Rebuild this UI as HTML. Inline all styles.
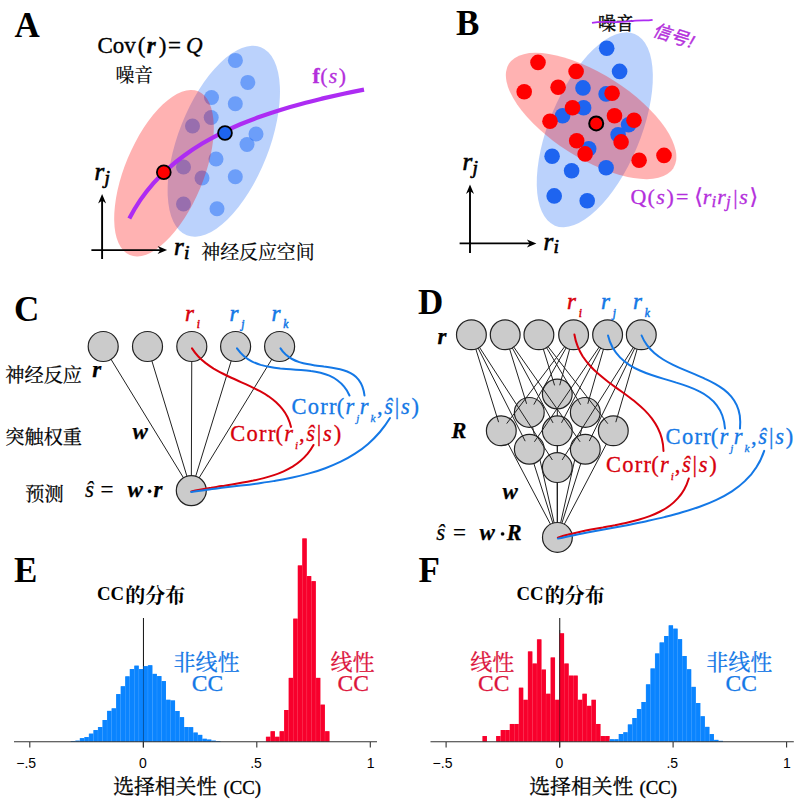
<!DOCTYPE html>
<html><head><meta charset="utf-8"><title>Figure</title><style>html,body{margin:0;padding:0;background:#fff;font-family:"Liberation Sans",sans-serif}svg{display:block}.sf{font-family:"Liberation Serif","Noto Serif CJK SC","DejaVu Serif",serif}.ss{font-family:"Liberation Sans","Noto Sans CJK SC",sans-serif}.it{font-style:italic}.bi{font-style:italic;font-weight:bold}.b{font-weight:bold}</style></head><body><svg width="800" height="802" viewBox="0 0 800 802"><g fill="#000" class="sf b" font-size="35"><text x="14.5" y="37">A</text><text x="456" y="35">B</text><text x="14" y="321">C</text><text x="418" y="313.6">D</text><text x="14" y="581.5">E</text><text x="418.5" y="582">F</text></g><ellipse cx="223.8" cy="141.2" rx="101.1" ry="45.4" transform="rotate(-68.5 223.8 141.2)" fill="rgb(30,105,245)" fill-opacity="0.30"/><g fill="rgb(30,105,245)" fill-opacity="0.5"><circle cx="235.4" cy="60.4" r="7.5"/><circle cx="247.8" cy="82.4" r="7.5"/><circle cx="211.5" cy="97.5" r="7.5"/><circle cx="235.3" cy="103.7" r="7.5"/><circle cx="211.2" cy="117.5" r="7.5"/><circle cx="192.5" cy="126.0" r="7.5"/><circle cx="256.0" cy="134.0" r="7.5"/><circle cx="247.0" cy="144.5" r="7.5"/><circle cx="183.5" cy="167.0" r="7.5"/><circle cx="216.0" cy="159.0" r="7.5"/><circle cx="202.0" cy="178.0" r="7.5"/><circle cx="235.3" cy="176.8" r="7.5"/><circle cx="183.5" cy="204.0" r="7.5"/><circle cx="217.0" cy="208.8" r="7.5"/></g><ellipse cx="164.0" cy="173.2" rx="88.8" ry="39.2" transform="rotate(-67.3 164.0 173.2)" fill="rgb(255,0,0)" fill-opacity="0.30"/><path d="M129.3 218.5 C132.7 212.0 136.4 205.8 140.4 199.9 C144.5 194.0 148.9 188.5 153.5 183.2 C158.2 178.0 163.1 173.0 168.3 168.4 C173.5 163.7 178.9 159.3 184.6 155.2 C190.3 151.0 196.1 147.2 202.2 143.5 C208.3 139.9 214.5 136.5 220.9 133.3 C227.3 130.1 233.8 127.1 240.4 124.3 C247.0 121.5 253.8 118.9 260.6 116.5 C267.4 114.1 274.3 111.8 281.2 109.7 C288.2 107.5 295.1 105.5 302.1 103.7 C309.1 101.8 316.1 100.1 323.0 98.4 C330.0 96.8 336.9 95.3 343.7 93.8 C350.5 92.3 357.3 90.9 364.0 89.6" fill="none" stroke="#ad2cf3" stroke-width="4.2"/><circle cx="163.8" cy="172.3" r="6.9" fill="#f00" stroke="#000" stroke-width="1.8"/><circle cx="225" cy="133" r="6.9" fill="#1e64f0" stroke="#000" stroke-width="1.8"/><g stroke="#000" stroke-width="1.9" fill="none"><path d="M102.1 259.0 V197.9 M91.4 250.1 H163.1"/></g><path d="M102.1 193.9 l-4 9.5 l4 -2.8 l4 2.8 z" fill="#000"/><path d="M167.1 250.1 l-9.5 -4 l2.8 4 l-2.8 4 z" fill="#000"/><g fill="#000" stroke="#000" stroke-width="0.35"><text class="sf" font-size="23" y="52.5"><tspan x="97.5">Cov</tspan><tspan x="137.75">(</tspan><tspan x="146.7" class="bi">r</tspan><tspan x="158.86">)</tspan><tspan x="168.01">=</tspan><tspan x="186.1" class="it">Q</tspan></text></g><g fill="#000" stroke="#000" stroke-width="0.65"><text class="sf it" font-size="25" x="94.5" y="180">r<tspan x="104.58" y="183.5" font-size="19.5">j</tspan></text><text class="sf it" font-size="25" x="174" y="255">r<tspan x="184.08" y="258.5" font-size="19.5">i</tspan></text></g><g fill="#000" stroke="#000" stroke-width="0.2"><text class="sf" font-size="18.8" x="115.5" y="81.8">噪音</text><text class="sf" font-size="18.9" x="201.3" y="258.8">神经反应空间</text></g><g fill="#b42fdc" stroke="#b42fdc" stroke-width="0.3"><text class="sf" font-size="21.8" y="82.5"><tspan x="312.5" class="b">f</tspan><tspan x="320.15">(</tspan><tspan x="328.63" class="it">s</tspan><tspan x="338.86">)</tspan></text></g><ellipse cx="594.8" cy="129.8" rx="103.8" ry="45.7" transform="rotate(-67.4 594.8 129.8)" fill="rgb(30,105,245)" fill-opacity="0.30"/><ellipse cx="591.1" cy="116.0" rx="97.4" ry="42.1" transform="rotate(32.4 591.1 116.0)" fill="rgb(255,0,0)" fill-opacity="0.30"/><g fill="#1e64f0"><circle cx="606.7" cy="48.3" r="7.8"/><circle cx="619.6" cy="71.4" r="7.8"/><circle cx="583.0" cy="87.9" r="7.8"/><circle cx="606.1" cy="93.9" r="7.8"/><circle cx="583.6" cy="107.7" r="7.8"/><circle cx="562.6" cy="115.8" r="7.8"/><circle cx="628.6" cy="124.8" r="7.8"/><circle cx="618.1" cy="134.7" r="7.8"/><circle cx="588.7" cy="148.8" r="7.8"/><circle cx="552.1" cy="156.3" r="7.8"/><circle cx="571.6" cy="170.7" r="7.8"/><circle cx="606.1" cy="167.7" r="7.8"/><circle cx="554.2" cy="195.9" r="7.8"/><circle cx="587.2" cy="200.7" r="7.8"/></g><g fill="#f00"><circle cx="538.0" cy="62.4" r="7.8"/><circle cx="576.1" cy="71.4" r="7.8"/><circle cx="558.1" cy="87.3" r="7.8"/><circle cx="524.2" cy="91.8" r="7.8"/><circle cx="612.1" cy="93.3" r="7.8"/><circle cx="572.5" cy="107.7" r="7.8"/><circle cx="614.5" cy="115.8" r="7.8"/><circle cx="550.0" cy="121.2" r="7.8"/><circle cx="634.0" cy="120.3" r="7.8"/><circle cx="576.7" cy="140.7" r="7.8"/><circle cx="621.1" cy="141.9" r="7.8"/><circle cx="585.1" cy="153.9" r="7.8"/><circle cx="639.1" cy="160.2" r="7.8"/><circle cx="664.0" cy="155.4" r="7.8"/></g><circle cx="596.2" cy="123.4" r="7" fill="#f00" stroke="#000" stroke-width="2"/><g stroke="#000" stroke-width="1.9" fill="none"><path d="M470.0 253.0 V188.4 M459.6 243.4 H532.4"/></g><path d="M470.0 184.4 l-4 9.5 l4 -2.8 l4 2.8 z" fill="#000"/><path d="M536.4 243.4 l-9.5 -4 l2.8 4 l-2.8 4 z" fill="#000"/><g fill="#000" stroke="#000" stroke-width="0.65"><text class="sf it" font-size="25" x="462.5" y="170">r<tspan x="472.57" y="173.5" font-size="19.5">j</tspan></text><text class="sf it" font-size="25" x="543.5" y="249.5">r<tspan x="553.57" y="253" font-size="19.5">i</tspan></text></g><g fill="#000" stroke="#000" stroke-width="0.35"><text class="sf" font-size="18" x="598" y="30.3">噪音</text></g><path d="M592 22.8 C604 20.5 614 23.3 628 21.4 S645 21 652.6 19.8" fill="none" stroke="#ad2cf3" stroke-width="1.8"/><g fill="#b42fdc" stroke="#b42fdc" stroke-width="0.4" transform="translate(651.8 35.6) rotate(17.5) skewX(-12)"><text class="ss" font-size="18" x="0" y="0">信号!</text></g><g fill="#b42fdc" stroke="#b42fdc" stroke-width="0.3"><text class="sf" font-size="22" y="203.8"><tspan x="630.5">Q</tspan><tspan x="647.62">(</tspan><tspan x="656.17" class="it">s</tspan><tspan x="666.49">)</tspan><tspan x="676.05">=</tspan><tspan x="694.17">⟨</tspan><tspan x="702.72" class="it">r</tspan><tspan x="711.45" y="206.88" font-size="17.16" class="it">i</tspan><tspan x="717.37" y="203.8" class="it">r</tspan><tspan x="726.09" y="206.88" font-size="17.16" class="it">j</tspan><tspan x="733.16" y="203.8">|</tspan><tspan x="739.27" class="it">s</tspan><tspan x="749.59">⟩</tspan></text></g><g stroke="#222" stroke-width="1" fill="none"><path d="M103.2 346.5 L191.3 490.6"/><path d="M147.5 346.5 L191.3 490.6"/><path d="M191.8 346.5 L191.3 490.6"/><path d="M235.6 346.5 L191.3 490.6"/><path d="M279.6 346.5 L191.3 490.6"/></g><g fill="#cbcbcb" stroke="#222" stroke-width="1.2"><circle cx="103.2" cy="346.5" r="15.0"/><circle cx="147.5" cy="346.5" r="15.0"/><circle cx="191.8" cy="346.5" r="15.0"/><circle cx="235.6" cy="346.5" r="15.0"/><circle cx="279.6" cy="346.5" r="15.0"/><circle cx="191.3" cy="490.6" r="15.0"/></g><g fill="none" stroke-width="2" stroke-linecap="round"><path stroke="#d8000c" d="M192.0 348.4 C193.8 351.2 195.8 353.8 198.1 356.2 C200.3 358.6 202.8 360.8 205.4 362.9 C208.0 364.9 210.8 366.8 213.6 368.6 C216.5 370.3 219.5 372.0 222.6 373.5 C225.6 375.1 228.8 376.6 231.9 378.0 C235.1 379.5 238.3 380.9 241.5 382.3 C244.6 383.7 247.8 385.2 250.9 386.6 C254.0 388.1 257.0 389.6 260.0 391.2 C262.9 392.8 265.8 394.5 268.5 396.3 C271.1 398.2 273.7 400.1 276.1 402.2 C278.4 404.4 280.6 406.6 282.5 409.1 C284.5 411.6 286.2 414.4 287.6 417.3 C289.0 420.3 290.2 423.5 291.0 427.0"/><path stroke="#d8000c" d="M313.5 445.0 C311.8 448.1 309.8 451.0 307.7 453.6 C305.5 456.2 303.2 458.6 300.6 460.7 C298.1 462.9 295.4 464.8 292.6 466.6 C289.7 468.3 286.7 469.9 283.6 471.3 C280.5 472.7 277.3 474.0 273.9 475.1 C270.6 476.2 267.2 477.2 263.8 478.1 C260.3 479.0 256.8 479.8 253.3 480.6 C249.8 481.3 246.2 482.0 242.7 482.6 C239.1 483.2 235.6 483.8 232.0 484.4 C228.5 485.0 225.0 485.6 221.5 486.1 C218.1 486.7 214.6 487.2 211.2 487.8 C207.8 488.3 204.4 488.9 201.1 489.5 C197.8 490.1 194.5 490.7 191.3 491.4"/><path stroke="#1478e6" d="M237.0 348.4 C239.0 351.3 241.3 353.8 243.8 355.9 C246.3 358.1 248.9 359.8 251.7 361.3 C254.6 362.8 257.5 363.9 260.6 364.9 C263.7 365.8 266.9 366.6 270.2 367.1 C273.5 367.7 276.9 368.1 280.3 368.5 C283.7 368.8 287.1 369.1 290.6 369.3 C294.0 369.5 297.5 369.8 300.9 370.0 C304.3 370.3 307.6 370.6 310.9 371.1 C314.2 371.5 317.4 372.1 320.5 372.8 C323.6 373.6 326.6 374.5 329.4 375.7 C332.2 377.0 334.9 378.4 337.3 380.2 C339.8 382.0 342.1 384.1 344.1 386.7 C346.2 389.2 348.0 392.1 349.5 395.5"/><path stroke="#1478e6" d="M280.5 348.4 C282.0 350.8 283.8 352.8 285.7 354.6 C287.6 356.3 289.8 357.8 292.0 359.0 C294.3 360.3 296.8 361.3 299.3 362.1 C301.8 362.9 304.5 363.6 307.2 364.1 C309.9 364.7 312.7 365.1 315.4 365.5 C318.2 365.9 321.1 366.2 323.8 366.6 C326.6 366.9 329.4 367.3 332.1 367.7 C334.8 368.1 337.4 368.6 340.0 369.2 C342.5 369.8 344.9 370.6 347.2 371.5 C349.5 372.5 351.6 373.6 353.5 374.9 C355.5 376.3 357.2 377.9 358.7 379.8 C360.2 381.8 361.4 384.0 362.4 386.6 C363.4 389.2 364.1 392.1 364.5 395.5"/><path stroke="#1478e6" d="M390.0 418.0 C386.9 423.1 383.5 427.7 379.9 432.0 C376.2 436.3 372.3 440.3 368.1 443.9 C364.0 447.5 359.6 450.7 355.0 453.7 C350.4 456.7 345.6 459.3 340.7 461.7 C335.7 464.1 330.6 466.3 325.3 468.2 C320.1 470.2 314.7 471.9 309.2 473.4 C303.7 475.0 298.1 476.3 292.5 477.5 C286.8 478.7 281.1 479.8 275.4 480.8 C269.6 481.7 263.9 482.6 258.1 483.4 C252.3 484.2 246.6 484.9 240.8 485.6 C235.1 486.3 229.4 486.9 223.8 487.6 C218.2 488.3 212.7 488.9 207.2 489.7 C201.8 490.4 196.5 491.1 191.3 492.0"/></g><g fill="#1478e6" stroke="#1478e6" stroke-width="0.3"><text class="sf" font-size="22.5" y="414.4"><tspan x="291.5" textLength="45.1">Corr</tspan><tspan x="336.63">(</tspan><tspan x="345.39" class="it">r</tspan><tspan x="356.13" y="422.27" font-size="11.25" class="it">j</tspan><tspan x="359.68" y="414.4" class="it">r</tspan><tspan x="370.43" y="422.27" font-size="11.25" class="it">k</tspan><tspan x="377" y="414.4">,</tspan><tspan x="384.25" class="it">ŝ</tspan><tspan x="394.81">|</tspan><tspan x="401.06" class="it">s</tspan><tspan x="411.61">)</tspan></text></g><g fill="#d8000c" stroke="#d8000c" stroke-width="0.3"><text class="sf" font-size="22.5" y="441.4"><tspan x="230.3" textLength="45.1">Corr</tspan><tspan x="275.44">(</tspan><tspan x="284.19" class="it">r</tspan><tspan x="294.94" y="449.27" font-size="11.25" class="it">i</tspan><tspan x="299.05" y="441.4">,</tspan><tspan x="306.3" class="it">ŝ</tspan><tspan x="316.86">|</tspan><tspan x="323.11" class="it">s</tspan><tspan x="333.66">)</tspan></text></g><g fill="#d8000c" stroke="#d8000c" stroke-width="0.5"><text class="sf it" font-size="23" x="185" y="320.5">r<tspan x="196.77" y="328" font-size="11.5">i</tspan></text></g><g fill="#1478e6" stroke="#1478e6" stroke-width="0.5"><text class="sf it" font-size="23" x="229.5" y="320.5">r<tspan x="241.27" y="328" font-size="11.5">j</tspan></text></g><g fill="#1478e6" stroke="#1478e6" stroke-width="0.5"><text class="sf it" font-size="23" x="271.5" y="320.5">r<tspan x="283.27" y="328" font-size="11.5">k</tspan></text></g><g fill="#000" stroke="#000" stroke-width="0.25"><text class="sf" font-size="19.2" x="5.3" y="382.3">神经反应</text><text class="sf" font-size="19.2" x="5.3" y="443.8">突触权重</text><text class="sf" font-size="19.2" x="25.3" y="501">预测</text><text class="sf bi" font-size="23" x="92.3" y="377.3">r</text><text class="sf bi" font-size="23" x="132.6" y="438.6">w</text><text class="sf" font-size="23" y="497"><tspan x="85" class="it">ŝ</tspan><tspan x="100.5">=</tspan><tspan x="127.5" class="bi">w</tspan><tspan x="153.5" class="bi">r</tspan></text><circle cx="149.6" cy="491.3" r="1.7"/></g><g stroke="#222" stroke-width="1" fill="none"><path d="M501.3 430.8 L557.4 537.4"/><path d="M529.3 449.2 L557.4 537.4"/><path d="M557.3 467.6 L557.4 537.4"/><path d="M529.3 412.4 L557.4 537.4"/><path d="M557.3 430.8 L557.4 537.4"/><path d="M585.3 449.2 L557.4 537.4"/><path d="M557.3 394.0 L557.4 537.4"/><path d="M585.3 412.4 L557.4 537.4"/><path d="M613.3 430.8 L557.4 537.4"/></g><g fill="#cbcbcb"><circle cx="501.3" cy="430.8" r="14.9"/><circle cx="529.3" cy="449.2" r="14.9"/><circle cx="557.3" cy="467.6" r="14.9"/><circle cx="529.3" cy="412.4" r="14.9"/><circle cx="557.3" cy="430.8" r="14.9"/><circle cx="585.3" cy="449.2" r="14.9"/><circle cx="557.3" cy="394.0" r="14.9"/><circle cx="585.3" cy="412.4" r="14.9"/><circle cx="613.3" cy="430.8" r="14.9"/></g><g stroke="#222" stroke-width="1" fill="none"><path d="M471.4 334.8 L498.6 422.2"/><path d="M573.6 334.8 L506.7 423.6"/><path d="M471.4 334.8 L525.2 441.2"/><path d="M607.6 334.8 L534.4 441.8"/><path d="M471.4 334.8 L552.4 460.0"/><path d="M641.3 334.8 L562.1 460.0"/><path d="M505.2 334.8 L526.6 403.8"/><path d="M573.6 334.8 L533.8 404.6"/><path d="M505.2 334.8 L553.0 422.9"/><path d="M607.6 334.8 L561.5 422.8"/><path d="M505.2 334.8 L580.1 441.8"/><path d="M641.3 334.8 L589.3 441.1"/><path d="M538.9 334.8 L554.6 385.4"/><path d="M573.6 334.8 L559.7 385.3"/><path d="M538.9 334.8 L580.7 404.7"/><path d="M607.6 334.8 L587.8 403.8"/><path d="M538.9 334.8 L607.8 423.7"/><path d="M641.3 334.8 L615.8 422.2"/></g><g fill="none" stroke="#222" stroke-width="1.2"><circle cx="501.3" cy="430.8" r="14.9"/><circle cx="529.3" cy="449.2" r="14.9"/><circle cx="557.3" cy="467.6" r="14.9"/><circle cx="529.3" cy="412.4" r="14.9"/><circle cx="557.3" cy="430.8" r="14.9"/><circle cx="585.3" cy="449.2" r="14.9"/><circle cx="557.3" cy="394.0" r="14.9"/><circle cx="585.3" cy="412.4" r="14.9"/><circle cx="613.3" cy="430.8" r="14.9"/></g><g fill="#cbcbcb" stroke="#222" stroke-width="1.2"><circle cx="471.4" cy="334.8" r="14.9"/><circle cx="505.2" cy="334.8" r="14.9"/><circle cx="538.9" cy="334.8" r="14.9"/><circle cx="573.6" cy="334.8" r="14.9"/><circle cx="607.6" cy="334.8" r="14.9"/><circle cx="641.3" cy="334.8" r="14.9"/><circle cx="557.4" cy="537.4" r="14.9"/></g><g fill="none" stroke-width="2" stroke-linecap="round"><path stroke="#d8000c" d="M574.4 334.5 C575.1 338.7 576.1 342.6 577.6 346.2 C579.0 349.9 580.8 353.3 582.8 356.5 C584.9 359.6 587.2 362.6 589.8 365.5 C592.3 368.3 595.1 371.0 598.0 373.6 C600.9 376.1 604.0 378.6 607.1 381.0 C610.2 383.4 613.4 385.7 616.7 388.1 C619.9 390.4 623.1 392.7 626.3 395.0 C629.5 397.4 632.7 399.8 635.7 402.2 C638.7 404.7 641.6 407.2 644.3 409.9 C647.0 412.6 649.5 415.4 651.8 418.3 C654.0 421.3 656.1 424.4 657.7 427.8 C659.4 431.2 660.8 434.7 661.8 438.6 C662.8 442.4 663.4 446.6 663.5 451.0"/><path stroke="#d8000c" d="M688.8 478.5 C687.6 482.5 686.1 486.1 684.2 489.5 C682.4 492.8 680.2 495.7 677.7 498.4 C675.3 501.1 672.6 503.6 669.6 505.7 C666.7 507.9 663.5 509.8 660.2 511.5 C656.8 513.3 653.3 514.8 649.7 516.1 C646.1 517.5 642.3 518.7 638.5 519.8 C634.7 520.9 630.8 521.9 626.8 522.8 C622.9 523.7 618.9 524.5 614.9 525.3 C610.9 526.0 606.9 526.7 602.9 527.5 C598.9 528.2 594.9 528.9 591.0 529.6 C587.1 530.3 583.2 531.1 579.4 531.9 C575.6 532.7 571.9 533.5 568.3 534.5 C564.7 535.4 561.2 536.4 557.9 537.6"/><path stroke="#1478e6" d="M608.0 335.5 C609.1 340.1 610.7 344.1 612.7 347.8 C614.8 351.4 617.2 354.5 620.0 357.4 C622.7 360.2 625.8 362.6 629.2 364.8 C632.5 366.9 636.1 368.8 639.9 370.5 C643.7 372.2 647.6 373.7 651.6 375.0 C655.7 376.4 659.8 377.7 663.9 378.9 C668.1 380.1 672.2 381.3 676.3 382.6 C680.4 383.8 684.4 385.1 688.3 386.6 C692.1 388.0 695.8 389.6 699.3 391.4 C702.8 393.1 706.1 395.2 709.0 397.5 C712.0 399.8 714.6 402.4 716.8 405.3 C719.1 408.3 720.9 411.7 722.3 415.5 C723.7 419.4 724.6 423.7 725.0 428.5"/><path stroke="#1478e6" d="M641.6 335.5 C643.0 339.0 644.8 342.2 647.0 345.1 C649.1 348.0 651.6 350.6 654.3 353.0 C657.1 355.4 660.0 357.5 663.2 359.5 C666.3 361.4 669.7 363.2 673.1 364.9 C676.6 366.6 680.1 368.2 683.7 369.7 C687.3 371.2 690.9 372.7 694.5 374.2 C698.1 375.7 701.7 377.2 705.1 378.8 C708.6 380.3 711.9 382.0 715.1 383.8 C718.3 385.6 721.2 387.5 724.0 389.6 C726.7 391.7 729.2 394.1 731.3 396.6 C733.5 399.2 735.3 402.1 736.7 405.2 C738.2 408.4 739.2 411.8 739.8 415.7 C740.3 419.6 740.4 423.8 740.0 428.5"/><path stroke="#1478e6" d="M764.2 450.9 C762.2 456.9 759.6 462.4 756.4 467.3 C753.3 472.3 749.6 476.7 745.4 480.6 C741.3 484.6 736.8 488.1 731.9 491.3 C727.0 494.5 721.8 497.3 716.4 499.8 C711.0 502.4 705.4 504.6 699.6 506.7 C693.9 508.7 688.0 510.6 682.1 512.3 C676.3 514.1 670.3 515.6 664.4 517.1 C658.4 518.6 652.4 519.9 646.5 521.2 C640.5 522.5 634.5 523.7 628.5 524.9 C622.5 526.0 616.5 527.1 610.5 528.2 C604.5 529.3 598.6 530.4 592.7 531.5 C586.8 532.6 580.9 533.7 575.1 534.9 C569.3 536.1 563.6 537.3 557.9 538.6"/></g><g fill="#1478e6" stroke="#1478e6" stroke-width="0.3"><text class="sf" font-size="22.5" y="444.4"><tspan x="665.6" textLength="45.1">Corr</tspan><tspan x="710.74">(</tspan><tspan x="719.49" class="it">r</tspan><tspan x="730.24" y="452.27" font-size="11.25" class="it">j</tspan><tspan x="733.78" y="444.4" class="it">r</tspan><tspan x="744.53" y="452.27" font-size="11.25" class="it">k</tspan><tspan x="751.1" y="444.4">,</tspan><tspan x="758.35" class="it">ŝ</tspan><tspan x="768.91">|</tspan><tspan x="775.16" class="it">s</tspan><tspan x="785.71">)</tspan></text></g><g fill="#d8000c" stroke="#d8000c" stroke-width="0.3"><text class="sf" font-size="22.5" y="472"><tspan x="606" textLength="45.1">Corr</tspan><tspan x="651.14">(</tspan><tspan x="659.89" class="it">r</tspan><tspan x="670.64" y="479.88" font-size="11.25" class="it">i</tspan><tspan x="674.75" y="472">,</tspan><tspan x="682" class="it">ŝ</tspan><tspan x="692.56">|</tspan><tspan x="698.81" class="it">s</tspan><tspan x="709.36">)</tspan></text></g><g fill="#d8000c" stroke="#d8000c" stroke-width="0.5"><text class="sf it" font-size="23" x="567" y="309">r<tspan x="578.77" y="316.5" font-size="11.5">i</tspan></text></g><g fill="#1478e6" stroke="#1478e6" stroke-width="0.5"><text class="sf it" font-size="23" x="601" y="309">r<tspan x="612.77" y="316.5" font-size="11.5">j</tspan></text></g><g fill="#1478e6" stroke="#1478e6" stroke-width="0.5"><text class="sf it" font-size="23" x="633" y="309">r<tspan x="644.77" y="316.5" font-size="11.5">k</tspan></text></g><g fill="#000" stroke="#000" stroke-width="0.25"><text class="sf bi" font-size="23" x="437.5" y="344.3">r</text><text class="sf bi" font-size="22.3" x="451.5" y="437.6">R</text><text class="sf bi" font-size="23" x="502.5" y="498.5">w</text><text class="sf" font-size="23" y="539.6"><tspan x="436.3" class="it">ŝ</tspan><tspan x="453">=</tspan><tspan x="479.5" class="bi">w</tspan><tspan x="506.8" font-size="22.3" class="bi">R</tspan></text><circle cx="502.6" cy="533.9" r="1.7"/></g><path d="M143.45 618 V747.4" stroke="#111" stroke-width="1.0"/><path d="M559.75 618 V747.4" stroke="#111" stroke-width="1.0"/><g fill="#0a84ff" fill-opacity="0.82"><rect x="138.76" y="669.10" width="4.54" height="72.50"/><rect x="134.22" y="665.70" width="4.54" height="75.90"/><rect x="129.68" y="669.10" width="4.54" height="72.50"/><rect x="125.14" y="676.40" width="4.54" height="65.20"/><rect x="120.60" y="686.30" width="4.54" height="55.30"/><rect x="116.06" y="694.10" width="4.54" height="47.50"/><rect x="111.52" y="708.40" width="4.54" height="33.20"/><rect x="106.98" y="710.90" width="4.54" height="30.70"/><rect x="102.44" y="720.00" width="4.54" height="21.60"/><rect x="97.90" y="727.00" width="4.54" height="14.60"/><rect x="93.36" y="730.10" width="4.54" height="11.50"/><rect x="88.82" y="733.70" width="4.54" height="7.90"/><rect x="84.28" y="737.10" width="4.54" height="4.50"/><rect x="79.74" y="738.20" width="4.54" height="3.40"/><rect x="75.20" y="740.70" width="4.54" height="0.90"/><rect x="70.66" y="741.00" width="4.54" height="0.60"/><rect x="143.30" y="666.20" width="4.54" height="75.40"/><rect x="147.84" y="665.30" width="4.54" height="76.30"/><rect x="152.38" y="673.90" width="4.54" height="67.70"/><rect x="156.92" y="676.10" width="4.54" height="65.50"/><rect x="161.46" y="681.10" width="4.54" height="60.50"/><rect x="166.00" y="699.80" width="4.54" height="41.80"/><rect x="170.54" y="700.50" width="4.54" height="41.10"/><rect x="175.08" y="711.00" width="4.54" height="30.60"/><rect x="179.62" y="717.20" width="4.54" height="24.40"/><rect x="184.16" y="727.00" width="4.54" height="14.60"/><rect x="188.70" y="727.20" width="4.54" height="14.40"/><rect x="193.24" y="732.60" width="4.54" height="9.00"/><rect x="197.78" y="734.90" width="4.54" height="6.70"/><rect x="202.32" y="738.80" width="4.54" height="2.80"/><rect x="206.86" y="739.60" width="4.54" height="2.00"/><rect x="211.40" y="740.70" width="4.54" height="0.90"/><rect x="215.94" y="741.00" width="4.54" height="0.60"/></g><g fill="#0a84ff"><rect x="139.11" y="669.10" width="4.04" height="72.50"/><rect x="134.57" y="665.70" width="4.04" height="75.90"/><rect x="130.03" y="669.10" width="4.04" height="72.50"/><rect x="125.49" y="676.40" width="4.04" height="65.20"/><rect x="120.95" y="686.30" width="4.04" height="55.30"/><rect x="116.41" y="694.10" width="4.04" height="47.50"/><rect x="111.87" y="708.40" width="4.04" height="33.20"/><rect x="107.33" y="710.90" width="4.04" height="30.70"/><rect x="102.79" y="720.00" width="4.04" height="21.60"/><rect x="98.25" y="727.00" width="4.04" height="14.60"/><rect x="93.71" y="730.10" width="4.04" height="11.50"/><rect x="89.17" y="733.70" width="4.04" height="7.90"/><rect x="84.63" y="737.10" width="4.04" height="4.50"/><rect x="80.09" y="738.20" width="4.04" height="3.40"/><rect x="75.55" y="740.70" width="4.04" height="0.90"/><rect x="71.01" y="741.00" width="4.04" height="0.60"/><rect x="143.65" y="666.20" width="4.04" height="75.40"/><rect x="148.19" y="665.30" width="4.04" height="76.30"/><rect x="152.73" y="673.90" width="4.04" height="67.70"/><rect x="157.27" y="676.10" width="4.04" height="65.50"/><rect x="161.81" y="681.10" width="4.04" height="60.50"/><rect x="166.35" y="699.80" width="4.04" height="41.80"/><rect x="170.89" y="700.50" width="4.04" height="41.10"/><rect x="175.43" y="711.00" width="4.04" height="30.60"/><rect x="179.97" y="717.20" width="4.04" height="24.40"/><rect x="184.51" y="727.00" width="4.04" height="14.60"/><rect x="189.05" y="727.20" width="4.04" height="14.40"/><rect x="193.59" y="732.60" width="4.04" height="9.00"/><rect x="198.13" y="734.90" width="4.04" height="6.70"/><rect x="202.67" y="738.80" width="4.04" height="2.80"/><rect x="207.21" y="739.60" width="4.04" height="2.00"/><rect x="211.75" y="740.70" width="4.04" height="0.90"/><rect x="216.29" y="741.00" width="4.04" height="0.60"/></g><g fill="#f8002c" fill-opacity="0.82"><rect x="265.88" y="736.80" width="4.54" height="4.80"/><rect x="270.42" y="731.30" width="4.54" height="10.30"/><rect x="274.96" y="736.80" width="4.54" height="4.80"/><rect x="279.50" y="731.30" width="4.54" height="10.30"/><rect x="284.04" y="710.00" width="4.54" height="31.60"/><rect x="288.58" y="677.90" width="4.54" height="63.70"/><rect x="293.12" y="618.70" width="4.54" height="122.90"/><rect x="297.66" y="565.50" width="4.54" height="176.10"/><rect x="302.20" y="538.50" width="4.54" height="203.10"/><rect x="306.74" y="576.10" width="4.54" height="165.50"/><rect x="311.28" y="581.20" width="4.54" height="160.40"/><rect x="315.82" y="677.90" width="4.54" height="63.70"/><rect x="320.36" y="704.70" width="4.54" height="36.90"/><rect x="324.90" y="731.30" width="4.54" height="10.30"/></g><g fill="#f8002c"><rect x="266.23" y="736.80" width="4.04" height="4.80"/><rect x="270.77" y="731.30" width="4.04" height="10.30"/><rect x="275.31" y="736.80" width="4.04" height="4.80"/><rect x="279.85" y="731.30" width="4.04" height="10.30"/><rect x="284.39" y="710.00" width="4.04" height="31.60"/><rect x="288.93" y="677.90" width="4.04" height="63.70"/><rect x="293.47" y="618.70" width="4.04" height="122.90"/><rect x="298.01" y="565.50" width="4.04" height="176.10"/><rect x="302.55" y="538.50" width="4.04" height="203.10"/><rect x="307.09" y="576.10" width="4.04" height="165.50"/><rect x="311.63" y="581.20" width="4.04" height="160.40"/><rect x="316.17" y="677.90" width="4.04" height="63.70"/><rect x="320.71" y="704.70" width="4.04" height="36.90"/><rect x="325.25" y="731.30" width="4.04" height="10.30"/></g><g fill="#f8002c" fill-opacity="0.82"><rect x="555.06" y="699.82" width="4.54" height="41.78"/><rect x="550.52" y="657.54" width="4.54" height="84.06"/><rect x="545.98" y="693.78" width="4.54" height="47.82"/><rect x="541.44" y="669.62" width="4.54" height="71.98"/><rect x="536.90" y="639.42" width="4.54" height="102.18"/><rect x="532.36" y="663.58" width="4.54" height="78.02"/><rect x="527.82" y="651.50" width="4.54" height="90.10"/><rect x="523.28" y="699.82" width="4.54" height="41.78"/><rect x="518.74" y="687.74" width="4.54" height="53.86"/><rect x="514.20" y="723.98" width="4.54" height="17.62"/><rect x="509.66" y="723.98" width="4.54" height="17.62"/><rect x="505.12" y="730.02" width="4.54" height="11.58"/><rect x="500.58" y="730.02" width="4.54" height="11.58"/><rect x="496.04" y="736.06" width="4.54" height="5.54"/><rect x="482.42" y="736.06" width="4.54" height="5.54"/><rect x="559.60" y="633.38" width="4.54" height="108.22"/><rect x="564.14" y="663.58" width="4.54" height="78.02"/><rect x="568.68" y="675.66" width="4.54" height="65.94"/><rect x="573.22" y="675.66" width="4.54" height="65.94"/><rect x="577.76" y="699.82" width="4.54" height="41.78"/><rect x="582.30" y="693.78" width="4.54" height="47.82"/><rect x="586.84" y="705.86" width="4.54" height="35.74"/><rect x="591.38" y="699.82" width="4.54" height="41.78"/><rect x="595.92" y="723.98" width="4.54" height="17.62"/><rect x="600.46" y="736.06" width="4.54" height="5.54"/><rect x="605.00" y="736.06" width="4.54" height="5.54"/></g><g fill="#f8002c"><rect x="555.41" y="699.82" width="4.04" height="41.78"/><rect x="550.87" y="657.54" width="4.04" height="84.06"/><rect x="546.33" y="693.78" width="4.04" height="47.82"/><rect x="541.79" y="669.62" width="4.04" height="71.98"/><rect x="537.25" y="639.42" width="4.04" height="102.18"/><rect x="532.71" y="663.58" width="4.04" height="78.02"/><rect x="528.17" y="651.50" width="4.04" height="90.10"/><rect x="523.63" y="699.82" width="4.04" height="41.78"/><rect x="519.09" y="687.74" width="4.04" height="53.86"/><rect x="514.55" y="723.98" width="4.04" height="17.62"/><rect x="510.01" y="723.98" width="4.04" height="17.62"/><rect x="505.47" y="730.02" width="4.04" height="11.58"/><rect x="500.93" y="730.02" width="4.04" height="11.58"/><rect x="496.39" y="736.06" width="4.04" height="5.54"/><rect x="482.77" y="736.06" width="4.04" height="5.54"/><rect x="559.95" y="633.38" width="4.04" height="108.22"/><rect x="564.49" y="663.58" width="4.04" height="78.02"/><rect x="569.03" y="675.66" width="4.04" height="65.94"/><rect x="573.57" y="675.66" width="4.04" height="65.94"/><rect x="578.11" y="699.82" width="4.04" height="41.78"/><rect x="582.65" y="693.78" width="4.04" height="47.82"/><rect x="587.19" y="705.86" width="4.04" height="35.74"/><rect x="591.73" y="699.82" width="4.04" height="41.78"/><rect x="596.27" y="723.98" width="4.04" height="17.62"/><rect x="600.81" y="736.06" width="4.04" height="5.54"/><rect x="605.35" y="736.06" width="4.04" height="5.54"/></g><g fill="#0a84ff" fill-opacity="0.82"><rect x="609.54" y="739.30" width="4.54" height="2.30"/><rect x="614.08" y="739.30" width="4.54" height="2.30"/><rect x="618.62" y="734.00" width="4.54" height="7.60"/><rect x="623.16" y="732.30" width="4.54" height="9.30"/><rect x="627.70" y="724.50" width="4.54" height="17.10"/><rect x="632.24" y="718.00" width="4.54" height="23.60"/><rect x="636.78" y="709.10" width="4.54" height="32.50"/><rect x="641.32" y="702.00" width="4.54" height="39.60"/><rect x="645.86" y="684.40" width="4.54" height="57.20"/><rect x="650.40" y="668.50" width="4.54" height="73.10"/><rect x="654.94" y="653.50" width="4.54" height="88.10"/><rect x="659.48" y="642.50" width="4.54" height="99.10"/><rect x="664.02" y="636.00" width="4.54" height="105.60"/><rect x="668.56" y="625.40" width="4.54" height="116.20"/><rect x="673.10" y="628.70" width="4.54" height="112.90"/><rect x="677.64" y="639.20" width="4.54" height="102.40"/><rect x="682.18" y="656.00" width="4.54" height="85.60"/><rect x="686.72" y="669.30" width="4.54" height="72.30"/><rect x="691.26" y="686.90" width="4.54" height="54.70"/><rect x="695.80" y="703.00" width="4.54" height="38.60"/><rect x="700.34" y="716.30" width="4.54" height="25.30"/><rect x="704.88" y="726.90" width="4.54" height="14.70"/><rect x="709.42" y="734.10" width="4.54" height="7.50"/><rect x="713.96" y="739.90" width="4.54" height="1.70"/><rect x="718.50" y="740.90" width="4.54" height="0.70"/></g><g fill="#0a84ff"><rect x="609.89" y="739.30" width="4.04" height="2.30"/><rect x="614.43" y="739.30" width="4.04" height="2.30"/><rect x="618.97" y="734.00" width="4.04" height="7.60"/><rect x="623.51" y="732.30" width="4.04" height="9.30"/><rect x="628.05" y="724.50" width="4.04" height="17.10"/><rect x="632.59" y="718.00" width="4.04" height="23.60"/><rect x="637.13" y="709.10" width="4.04" height="32.50"/><rect x="641.67" y="702.00" width="4.04" height="39.60"/><rect x="646.21" y="684.40" width="4.04" height="57.20"/><rect x="650.75" y="668.50" width="4.04" height="73.10"/><rect x="655.29" y="653.50" width="4.04" height="88.10"/><rect x="659.83" y="642.50" width="4.04" height="99.10"/><rect x="664.37" y="636.00" width="4.04" height="105.60"/><rect x="668.91" y="625.40" width="4.04" height="116.20"/><rect x="673.45" y="628.70" width="4.04" height="112.90"/><rect x="677.99" y="639.20" width="4.04" height="102.40"/><rect x="682.53" y="656.00" width="4.04" height="85.60"/><rect x="687.07" y="669.30" width="4.04" height="72.30"/><rect x="691.61" y="686.90" width="4.04" height="54.70"/><rect x="696.15" y="703.00" width="4.04" height="38.60"/><rect x="700.69" y="716.30" width="4.04" height="25.30"/><rect x="705.23" y="726.90" width="4.04" height="14.70"/><rect x="709.77" y="734.10" width="4.04" height="7.50"/><rect x="714.31" y="739.90" width="4.04" height="1.70"/><rect x="718.85" y="740.90" width="4.04" height="0.70"/></g><path d="M143.45 660 V741.6" stroke="#000" stroke-opacity="0.3" stroke-width="0.8"/><path d="M559.75 630 V741.6" stroke="#000" stroke-opacity="0.5" stroke-width="0.8"/><g stroke="#333" stroke-width="1.1" fill="none"><path d="M14.0 741.8 H377.0 M29.80 741.6 V747.4 M143.30 741.6 V747.4 M256.80 741.6 V747.4 M370.30 741.6 V747.4"/></g><g stroke="#333" stroke-width="1.1" fill="none"><path d="M430.5 741.8 H793.8 M446.10 741.6 V747.4 M559.60 741.6 V747.4 M673.10 741.6 V747.4 M786.60 741.6 V747.4"/></g><g fill="#000" class="ss" font-size="14" text-anchor="middle"><text x="26.2" y="767.5">−.5</text><text x="143" y="767.5">0</text><text x="256" y="767.5">.5</text><text x="370.6" y="767.5">1</text><text x="442.5" y="767.5">−.5</text><text x="559.3" y="767.5">0</text><text x="672.3" y="767.5">.5</text><text x="786.9" y="767.5">1</text></g><g fill="#000" stroke="#000" stroke-width="0.3"><text class="sf" font-size="20.8" x="113.2" y="793.8">选择相关性</text><text class="sf" font-size="18.8" x="223.4" y="793.6">(CC)</text><text class="sf" font-size="20.8" x="529.3" y="793.8">选择相关性</text><text class="sf" font-size="18.8" x="639.5" y="793.6">(CC)</text></g><g fill="#000"><text class="sf b" font-size="18.8" x="97" y="600.4">CC</text><text class="sf b" font-size="20" x="125.2" y="602.8">的分布</text><text class="sf b" font-size="18.8" x="516.5" y="600.4">CC</text><text class="sf b" font-size="20" x="544.7" y="602.8">的分布</text></g><g fill="#1478e6" stroke="#1478e6" stroke-width="0.25"><text class="sf" font-size="22" x="173.6" y="670">非线性</text><text class="sf" font-size="23.6" x="191.8" y="690.5">CC</text></g><g fill="#dc143c" stroke="#dc143c" stroke-width="0.25"><text class="sf" font-size="22" x="330.4" y="670">线性</text><text class="sf" font-size="23.6" x="337.4" y="690.5">CC</text></g><g fill="#dc143c" stroke="#dc143c" stroke-width="0.25"><text class="sf" font-size="22" x="470.2" y="670">线性</text><text class="sf" font-size="23.6" x="477.9" y="690.5">CC</text></g><g fill="#1478e6" stroke="#1478e6" stroke-width="0.25"><text class="sf" font-size="22" x="706.2" y="670">非线性</text><text class="sf" font-size="23.6" x="725.4" y="690.5">CC</text></g></svg></body></html>
